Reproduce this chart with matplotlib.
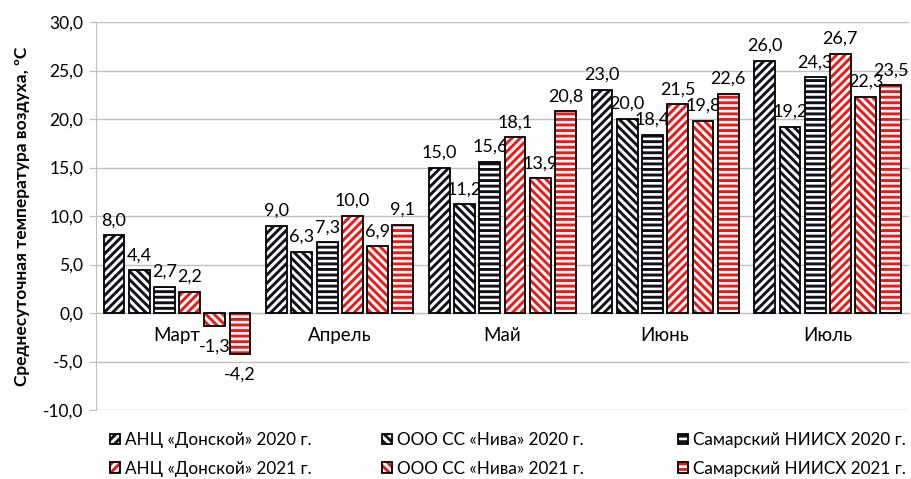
import numpy as np
import matplotlib
matplotlib.use("Agg")
import matplotlib.pyplot as plt
from matplotlib.legend_handler import HandlerTuple

plt.rcParams['font.family'] = ['Lato', 'DejaVu Sans']
plt.rcParams['hatch.linewidth'] = 2.1

months = ["Март", "Апрель", "Май", "Июнь", "Июль"]
series_names = ["АНЦ «Донской» 2020 г.", "ООО СС «Нива» 2020 г.", "Самарский НИИСХ 2020 г.",
                "АНЦ «Донской» 2021 г.", "ООО СС «Нива» 2021 г.", "Самарский НИИСХ 2021 г."]
donskoy_2020 = [8.0, 9.0, 15.0, 23.0, 26.0]
niva_2020 = [4.4, 6.3, 11.2, 20.0, 19.2]
samara_2020 = [2.7, 7.3, 15.6, 18.4, 24.3]
donskoy_2021 = [2.2, 10.0, 18.1, 21.5, 26.7]
niva_2021 = [-1.3, 6.9, 13.9, 19.8, 22.3]
samara_2021 = [-4.2, 9.1, 20.8, 22.6, 23.5]

all_series = [donskoy_2020, niva_2020, samara_2020, donskoy_2021, niva_2021, samara_2021]
colors = ["#101020", "#101020", "#101020", "#f41515", "#f41515", "#f41515"]
hatches = ["////", "\\\\\\\\", "---", "////", "\\\\\\\\", "---"]

fig = plt.figure(figsize=(9.11, 4.79), dpi=100)
ax = fig.add_axes([0.105, 0.144, 0.893, 0.81])
ax.spines["bottom"].set_position(("data", 0))

x = np.arange(len(months))
step = 0.155
width = 0.128
handles = []
for i, vals in enumerate(all_series):
    pos = x + (i - 2.5) * step
    b1 = ax.bar(pos, vals, width, color="white", edgecolor=colors[i], hatch=hatches[i],
                linewidth=0, zorder=3)
    b2 = ax.bar(pos, vals, width, color="none", edgecolor="black", linewidth=1.3, zorder=4)
    handles.append((b1, b2))
    for p, v in zip(pos, vals):
        txt = f"{v:.1f}".replace(".", ",")
        if v >= 0:
            ax.annotate(txt, (p, v), xytext=(0, 5), textcoords="offset points",
                        ha="center", va="bottom", fontsize=13)
        else:
            ax.annotate(txt, (p, v), xytext=(0, -9), textcoords="offset points",
                        ha="center", va="top", fontsize=13)

ax.set_ylim(-10, 30)
ax.set_xlim(-0.5, 4.5)
ax.set_yticks(np.arange(-10, 31, 5))
ax.set_yticklabels([f"{t:.1f}".replace(".", ",") for t in np.arange(-10, 31, 5)])
ax.yaxis.grid(True, color="#bfbfbf", linewidth=1, zorder=0)
ax.set_axisbelow(True)
ax.set_xticks(x)
ax.set_xticklabels(months)
ax.tick_params(axis="x", length=0, pad=10, labelsize=13.5)
ax.tick_params(axis="y", length=5, color="#bfbfbf", pad=4, labelsize=12.5)
ax.spines["bottom"].set_color("#bfbfbf")
ax.spines["left"].set_color("#bfbfbf")
ax.spines["top"].set_visible(False)
ax.spines["right"].set_visible(False)
ax.set_ylabel("Среднесуточная температура воздуха, ºС", fontsize=12.5, fontweight="bold",
              labelpad=9)

# three legend columns, 2020 on top, 2021 below
col_x = [98, 370, 666]
for c in range(3):
    fig.legend([handles[c], handles[c + 3]], [series_names[c], series_names[c + 3]],
               handler_map={tuple: HandlerTuple(ndivide=1)},
               loc="upper left", bbox_to_anchor=(col_x[c] / 911, 1 - 420 / 479),
               frameon=False, fontsize=12.3, handlelength=0.6, handleheight=0.6,
               handletextpad=0.3, labelspacing=0.75, borderpad=0.2)

fig.savefig("out.png", dpi=100)
